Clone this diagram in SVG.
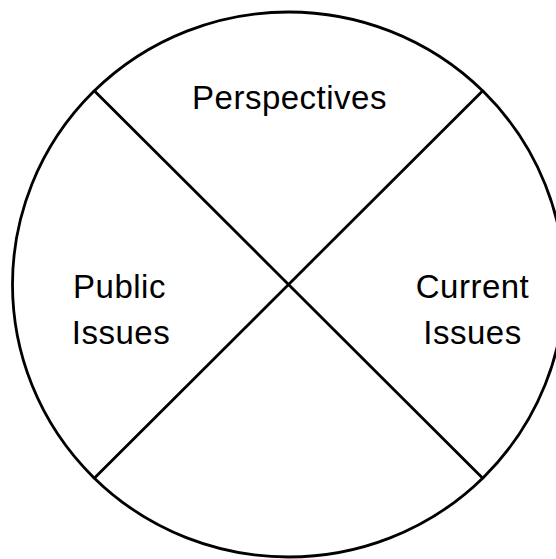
<svg xmlns="http://www.w3.org/2000/svg" width="556" height="559" viewBox="0 0 556 559">
<style>
.ln{stroke:#000;stroke-width:2.8;fill:none}
.lbl{font-family:"Liberation Sans",Arial,sans-serif;font-size:33px;fill:#000;text-anchor:middle;letter-spacing:0.5px}
</style>
<rect width="556" height="559" fill="#fff"/>
<g id="circle">
<ellipse class="ln" cx="288.5" cy="284.5" rx="276" ry="272.5"/>
</g>
<g id="connectors">
<line class="ln" x1="93.5" y1="90" x2="483.5" y2="479"/>
<line class="ln" x1="483.5" y1="90" x2="93.5" y2="479"/>
</g>
<g id="perspectives">
<text class="lbl" x="289.5" y="109">Perspectives</text>
</g>
<g id="public-issues">
<text class="lbl" x="119.5" y="297.5">Public</text>
<text class="lbl" x="121" y="344">Issues</text>
</g>
<g id="current-issues">
<text class="lbl" x="472.5" y="298">Current</text>
<text class="lbl" x="472.5" y="344">Issues</text>
</g>
</svg>
